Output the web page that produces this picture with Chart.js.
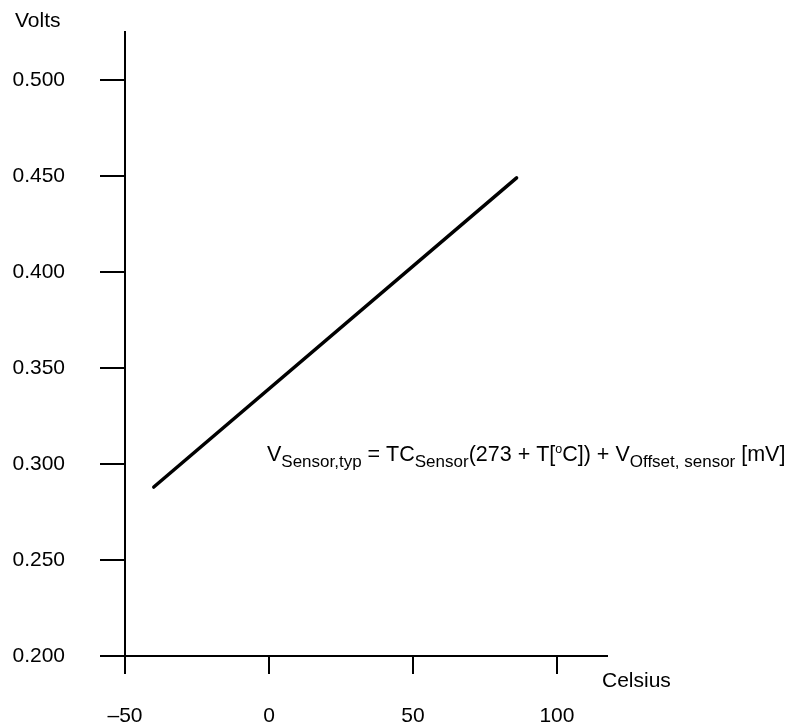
<!DOCTYPE html>
<html>
<head>
<meta charset="utf-8">
<script src="https://cdn.jsdelivr.net/npm/chart.js@4.4.1/dist/chart.umd.min.js"></script>
<style>
  html, body { margin: 0; padding: 0; background: #fff; }
  canvas { display: block; }
</style>
</head>
<body>
<canvas id="chart" width="789" height="725"></canvas>
<script>
// sensor voltage vs temperature
const tempC = [-40, 86];
const volts = [0.288, 0.449];
const xTicks = [-50, 0, 50, 100];
const yTicks = [0.2, 0.25, 0.3, 0.35, 0.4, 0.45, 0.5];

const FONT = "'Liberation Sans', Arial, Helvetica, sans-serif";

// axis names + the formula are drawn by hand, like the original datasheet figure
const labelsPlugin = {
  id: "labels",
  afterDraw(chart) {
    const ctx = chart.ctx;
    const x = chart.scales.x, y = chart.scales.y;
    ctx.save();
    ctx.fillStyle = "#000";
    ctx.textBaseline = "alphabetic";
    ctx.textAlign = "left";

    ctx.font = "21px " + FONT;
    ctx.fillText("Volts", 15, 27);
    ctx.fillText("Celsius", chart.chartArea.right - 5, chart.chartArea.bottom + 31);

    // V_Sensor,typ = TC_Sensor(273 + T[°C]) + V_Offset, sensor [mV]
    const parts = [
      ["V", 0], ["Sensor,typ", 1], [" = TC", 0], ["Sensor", 1],
      ["(273 + T[", 0], ["o", 2], ["C]) + V", 0], ["Offset, sensor", 1], [" [mV]", 0]
    ];
    let px = x.getPixelForValue(-0.7);
    const base = y.getPixelForValue(0.3) - 3;
    for (const [txt, kind] of parts) {
      let dy = 0;
      if (kind === 0) ctx.font = "21.5px " + FONT;
      else if (kind === 1) { ctx.font = "17px " + FONT; dy = 6; }
      else { ctx.font = "12.5px " + FONT; dy = -8; }
      ctx.fillText(txt, px, base + dy);
      px += ctx.measureText(txt).width;
    }
    ctx.restore();
  }
};

new Chart(document.getElementById("chart"), {
  type: "scatter",
  data: {
    datasets: [{
      data: tempC.map((t, i) => ({ x: t, y: volts[i] })),
      showLine: true,
      borderColor: "#000",
      borderWidth: 3.5,
      borderCapStyle: "round",
      pointRadius: 0,
      clip: false
    }]
  },
  options: {
    responsive: false,
    animation: false,
    events: [],
    layout: { padding: { top: 32, right: 182, left: 0, bottom: 0 } },
    plugins: { legend: { display: false }, tooltip: { enabled: false } },
    scales: {
      x: {
        type: "linear",
        min: -50,
        max: 117.4,
        afterBuildTicks: (s) => { s.ticks = xTicks.map(v => ({ value: v })); },
        afterFit: (s) => { s.height = 69; s.paddingLeft = 0; s.paddingRight = 0; },
        border: { display: true, color: "#000", width: 2 },
        grid: { drawOnChartArea: false, color: "#000", lineWidth: 2, tickLength: 18 },
        ticks: {
          color: "#000",
          font: { family: FONT, size: 21 },
          padding: 30,
          maxRotation: 0,
          callback: (v) => (v < 0 ? "\u2013" + Math.abs(v) : String(v))
        }
      },
      y: {
        type: "linear",
        min: 0.2,
        max: 0.525,
        afterBuildTicks: (s) => { s.ticks = yTicks.map(v => ({ value: v })); },
        afterFit: (s) => { s.width = 125; s.paddingTop = 0; s.paddingBottom = 0; },
        border: { display: true, color: "#000", width: 2 },
        grid: { drawOnChartArea: false, color: "#000", lineWidth: 2, tickLength: 25 },
        ticks: {
          color: "#000",
          font: { family: FONT, size: 21 },
          padding: 35,
          callback: (v) => v.toFixed(3)
        }
      }
    }
  },
  plugins: [labelsPlugin]
});
</script>
</body>
</html>
